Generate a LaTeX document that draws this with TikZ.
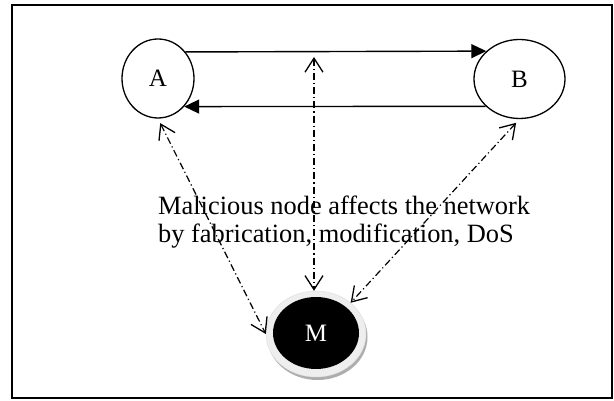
\documentclass[tikz,border=0pt]{standalone}
\usepackage{fontspec}
\setmainfont{Liberation Serif}
\usetikzlibrary{arrows.meta,shapes.geometric,calc}

\definecolor{ringgrey}{HTML}{EEEEEE}
\definecolor{shadowgrey}{HTML}{ADADAD}

\tikzset{
  peer/.style={ellipse, draw, line width=1.3pt, inner sep=0pt,
               font=\fontsize{25}{25}\selectfont},
  link/.style={line width=1.4pt, -{Triangle[length=15pt,width=14pt]}},
  attack/.style={line width=1.2pt, line join=miter,
                 dash pattern=on 7pt off 3pt on 1.2pt off 3pt,
                 {Straight Barb[length=14pt,width=18pt,line width=1.3pt]}-{Straight Barb[length=14pt,width=18pt,line width=1.3pt]}},
  note/.style={align=left, inner sep=0pt,
               font=\fontsize{26.4}{28}\selectfont}
}

\begin{document}
\begin{tikzpicture}[x=1pt,y=1pt]
  \useasboundingbox (0,0) rectangle (614,401);
  % outer frame
  \draw[line width=2pt] (12,3) rectangle (612,396);

  % honest peers
  \node[peer, minimum width=72pt, minimum height=79pt] (A) at (158,322.5) {A};
  \node[peer, minimum width=91pt, minimum height=79pt] (B) at (519.5,322) {B};

  % malicious node: soft shadow, light ring, black core
  \fill[shadowgrey] (317.5,64) ellipse [x radius=50, y radius=43];
  \node[ellipse, fill=ringgrey, draw=ringgrey!85!gray, line width=0.4pt,
        minimum width=100pt, minimum height=86pt, inner sep=0pt] (M) at (316,67) {};
  \node[ellipse, fill=black, minimum width=86pt, minimum height=72pt,
        inner sep=0pt, text=white, font=\fontsize{25}{25}\selectfont] (Mcore) at (316,68) {M};

  % traffic between A and B
  \draw[link] (A.44.8) -- (B.140.9);
  \draw[link] (B.219.1) -- (A.313.2);

  % attacks from M
  \coordinate (mid) at (314,344);
  \draw[attack] (mid) -- (mid |- M.north);
  \draw[attack, shorten <=5pt] (A.south) -- (M.west);
  \draw[attack, shorten <=5pt] (B.south) -- (M.42);

  % description (anchored on the baseline of its last line)
  \node[note, anchor=base west] (txt) at (158,158)
    {Malicious node affects the network\\by fabrication, modification, DoS};
\end{tikzpicture}
\end{document}
